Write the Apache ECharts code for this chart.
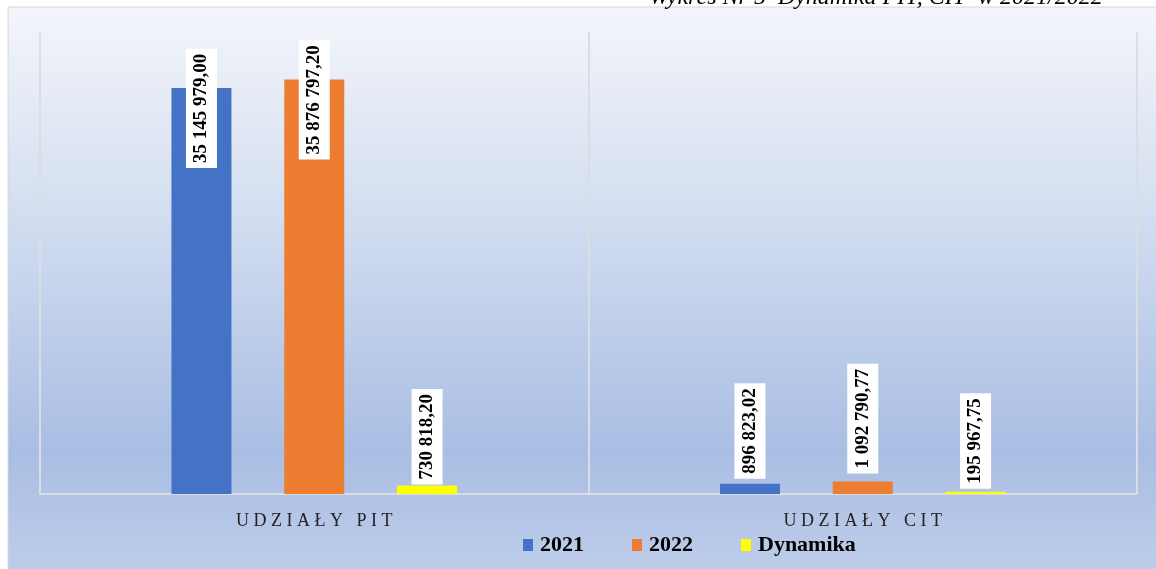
<!DOCTYPE html>
<html>
<head>
    <meta charset="utf-8">
    <script src="https://cdn.jsdelivr.net/npm/echarts@6/dist/echarts.min.js"></script>
    <style type="text/css">
        html, body { width: 100%; height: 100%; margin: 0; background: #fff; }
        #chart { width: 1156px; height: 569px; }
    </style>
</head>
<body>
<div id="chart"></div>
<script type="text/javascript">
    // dane wykresu
    var kategorie = ['UDZIAŁY PIT', 'UDZIAŁY CIT'];
    var serie = ['2021', '2022', 'Dynamika'];
    var wartosci2021 = [35145979.00, 896823.02];
    var wartosci2022 = [35876797.20, 1092790.77];
    var dynamika = [730818.20, 195967.75];
    // odstep etykiety od szczytu slupka (ujemny = w dol)
    var odstep2021 = [-80, 5];
    var odstep2022 = [-80, 8];
    var odstepDyn = [1, 3];
    var kolory = ['#4472c4', '#ed7d31', '#ffff00'];

    function fmt(v) {
        var s = v.toFixed(2).split('.');
        return s[0].replace(/\B(?=(\d{3})+(?!\d))/g, ' ') + ',' + s[1];
    }

    function daneSerii(vals, odst) {
        return vals.map(function (v, i) {
            return { value: v, label: { distance: odst[i] } };
        });
    }

    var etykieta = {
        show: true,
        position: 'top',
        rotate: 90,
        align: 'left',
        verticalAlign: 'middle',
        formatter: function (p) { return fmt(p.value); },
        fontFamily: '"Liberation Serif", serif',
        fontWeight: 'bold',
        fontSize: 19,
        color: '#000',
        backgroundColor: '#fff',
        padding: [6, 5, 6, 5]
    };

    var chart = echarts.init(document.getElementById('chart'));
    var option = {
        animation: false,
        graphic: [{
            type: 'rect',
            z: -10,
            silent: true,
            shape: { x: 8, y: 7, width: 1160, height: 570 },
            style: {
                stroke: '#d4d7dc',
                lineWidth: 1,
                fill: {
                    type: 'linear', x: 0, y: 0, x2: 0, y2: 1,
                    colorStops: [
                        { offset: 0, color: '#f3f5fa' },
                        { offset: 0.3, color: '#d9e2f2' },
                        { offset: 0.78, color: '#a9bee3' },
                        { offset: 1, color: '#bfcdea' }
                    ]
                }
            }
        }],
        title: {
            text: 'Wykres Nr 5  Dynamika PIT, CIT  w 2021/2022',
            left: 644,
            top: -19,
            textStyle: {
                fontFamily: '"Liberation Serif", serif',
                fontStyle: 'italic',
                fontWeight: 'normal',
                fontSize: 24,
                color: '#000'
            }
        },
        legend: {
            data: serie,
            bottom: 8,
            left: 518,
            itemWidth: 10,
            itemHeight: 12,
            itemGap: 48,
            icon: 'rect',
            textStyle: {
                fontFamily: '"Liberation Serif", serif',
                fontWeight: 'bold',
                fontSize: 22,
                color: '#000',
                padding: [0, 0, 0, 2]
            }
        },
        grid: { left: 40, right: 19, top: 32, bottom: 75 },
        xAxis: {
            type: 'category',
            data: kategorie,
            axisLine: { lineStyle: { color: '#d9dde4', width: 2 } },
            axisTick: { show: false },
            splitLine: { show: true, lineStyle: { color: '#d9dde4', width: 2 } },
            axisLabel: {
                margin: 18,
                fontFamily: '"Liberation Serif", serif',
                fontSize: 18,
                color: '#222',
                formatter: function (v) { return v.split('').join(' '); }
            }
        },
        yAxis: {
            type: 'value',
            min: 0,
            max: 40000000,
            show: false,
            splitLine: { show: false }
        },
        series: [
            { name: serie[0], type: 'bar', barWidth: 60, barGap: '88%', itemStyle: { color: kolory[0] }, label: etykieta, data: daneSerii(wartosci2021, odstep2021) },
            { name: serie[1], type: 'bar', barWidth: 60, barGap: '88%', itemStyle: { color: kolory[1] }, label: etykieta, data: daneSerii(wartosci2022, odstep2022) },
            { name: serie[2], type: 'bar', barWidth: 60, barGap: '88%', itemStyle: { color: kolory[2] }, label: etykieta, data: daneSerii(dynamika, odstepDyn) }
        ]
    };
    chart.setOption(option);
</script>
</body>
</html>
